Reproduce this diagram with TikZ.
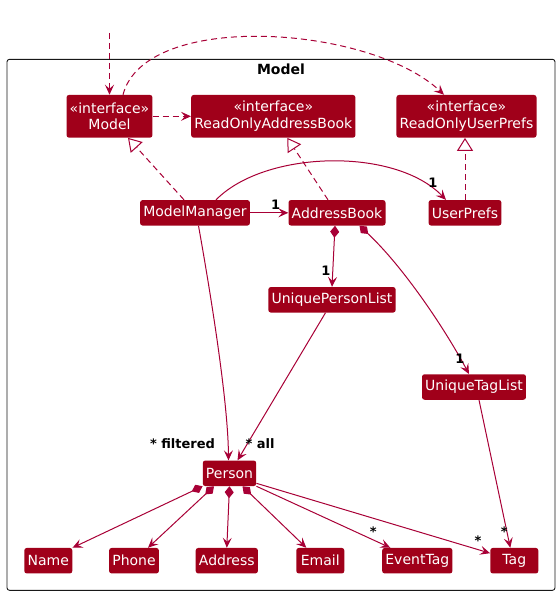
\documentclass[tikz,border=0pt]{standalone}
\usepackage{fontspec}
\setmainfont{DejaVu Sans}
\usetikzlibrary{arrows.meta,positioning,calc}
\definecolor{umlFill}{HTML}{A0001A}
\definecolor{umlLine}{HTML}{A80036}
\definecolor{umlFrame}{HTML}{181818}
\tikzset{
  classbox/.style={
    fill=umlFill, rounded corners=2.5pt, text=white,
    font=\fontsize{14}{16.7}\selectfont, minimum height=25.5pt,
    minimum width=48pt, inner xsep=3.2pt, inner ysep=0pt
  },
  ifacebox/.style={classbox, align=center, minimum height=42.7pt},
  pkgframe/.style={draw=umlFrame, line width=0.9pt, rounded corners=2.5pt},
  pkgtitle/.style={font=\fontsize{14}{14}\bfseries\selectfont, inner sep=0pt},
  assoc/.style={-{Stealth[length=10pt, width=9pt, inset=4pt]}, umlLine, line width=1pt},
  depend/.style={assoc, dash pattern=on 6pt off 4pt},
  realize/.style={umlLine, line width=1pt, dash pattern=on 6pt off 4pt,
    -{Triangle[open, length=13pt, width=16pt, fill=white]}},
  compose/.style={assoc, {Diamond[length=12pt, width=9pt]}-{Stealth[length=10pt, width=9pt, inset=4pt]}},
  mult/.style={font=\fontsize{13}{13}\bfseries\selectfont, text=black, inner sep=0pt}
}

\begin{document}
\begin{tikzpicture}[x=1pt, y=1pt]
  \useasboundingbox (0,0) rectangle (560,-595);

  % package frame
  \draw[pkgframe] (7,-59.3) rectangle (555,-590.3);
  \node[pkgtitle] (pkg) at (281,-69) {Model};

  % interfaces
  \node[ifacebox] (modelIf) at (109.5,-116.3) {«interface»\\Model};
  \node[ifacebox] (roab) at (273.3,-116.3) {«interface»\\ReadOnlyAddressBook};
  \node[ifacebox] (roup) at (466.5,-116.3) {«interface»\\ReadOnlyUserPrefs};

  % classes
  \node[classbox] (mgr) at (195,-212.8) {ModelManager};
  \node[classbox] (ab) at (337,-212.8) {AddressBook};
  \node[classbox] (up) at (465,-212.8) {UserPrefs};
  \node[classbox] (upl) at (332,-299.8) {UniquePersonList};
  \node[classbox] (utl) at (474,-387) {UniqueTagList};
  \node[classbox] (person) at (229.5,-473.3) {Person};
  \node[classbox] (name) at (48.3,-560.7) {Name};
  \node[classbox] (phone) at (134,-560.7) {Phone};
  \node[classbox] (address) at (226.8,-560.7) {Address};
  \node[classbox] (email) at (320.3,-560.7) {Email};
  \node[classbox] (eventtag) at (417.3,-560.7) {EventTag};
  \node[classbox] (tag) at (514.3,-560.7) {Tag};

  % dependencies
  \coordinate (ext) at ($(modelIf.north)+(0,62)$);
  \draw[depend] (ext) -- (ext |- modelIf.north);
  \draw[depend] ([xshift=13.5pt]modelIf.north) .. controls (145,-10) and (370,-25) .. ([xshift=-22.5pt]roup.north);
  \draw[depend] (modelIf) -- (roab);

  % realizations
  \draw[realize] ([xshift=-11pt]mgr.north) -- ([xshift=18.5pt]modelIf.south);
  \draw[realize] ([xshift=-9pt]ab.north) -- ([xshift=14pt]roab.south);
  \draw[realize] (up.north) -- (up.north |- roup.south);

  % associations
  \draw[assoc] (mgr) -- (ab) node[mult, pos=0.67, above=3pt] {1};
  \draw[assoc] ([xshift=21pt]mgr.north) .. controls (265,-150) and (395,-147) .. ([xshift=-19pt]up.north)
    node[mult, at end, xshift=-13pt, yshift=17pt] {1};
  \draw[compose] ([xshift=-2pt]ab.south) -- (upl.north)
    node[mult, at end, xshift=-6pt, yshift=16pt] {1};
  \draw[compose] ([xshift=22.5pt]ab.south) .. controls (403.5,-267) and (445,-329) .. ([xshift=-5pt]utl.north)
    node[mult, at end, xshift=-9pt, yshift=15pt] {1};
  \draw[assoc] ([xshift=3.5pt]mgr.south) .. controls (210,-290) and (228,-400) .. ([xshift=-1pt]person.north)
    node[mult, at end, anchor=east, xshift=-13pt, yshift=17pt] {* filtered};
  \draw[assoc] ([xshift=-6.5pt]upl.south) -- ([xshift=8pt]person.north)
    node[mult, at end, anchor=west, xshift=7.5pt, yshift=17pt] {* all};
  \draw[assoc] ([xshift=5pt]utl.south) -- ([xshift=-4pt]tag.north)
    node[mult, at end, xshift=-6pt, yshift=16pt] {*};

  % person attributes
  \draw[compose] (person.south west) -- (name.north east);
  \draw[compose] ([xshift=-15.5pt]person.south) -- ([xshift=14pt]phone.north);
  \draw[compose] (person.south) -- (address.north);
  \draw[compose] ([xshift=13pt]person.south) -- ([xshift=-14pt]email.north);
  \draw[assoc] (person.south east) -- ([xshift=-27pt]eventtag.north)
    node[mult, at end, xshift=-17pt, yshift=16pt] {*};
  \draw[assoc] ([yshift=-10pt]person.east) -- ([yshift=7.5pt]tag.west)
    node[mult, at end, xshift=-12pt, yshift=13pt] {*};
\end{tikzpicture}
\end{document}
